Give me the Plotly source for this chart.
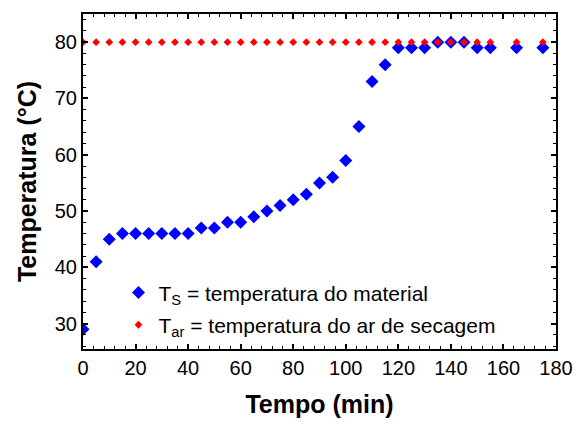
import plotly.graph_objects as go

# Drying experiment: time (min) vs temperature (°C)
tempo = [0, 5, 10, 15, 20, 25, 30, 35, 40, 45, 50, 55, 60, 65, 70, 75, 80, 85,
         90, 95, 100, 105, 110, 115, 120, 125, 130, 135, 140, 145, 150, 155,
         165, 175]
t_material = [29, 41, 45, 46, 46, 46, 46, 46, 46, 47, 47, 48, 48, 49, 50, 51,
              52, 53, 55, 56, 59, 65, 73, 76, 79, 79, 79, 80, 80, 80, 79, 79,
              79, 79]
t_ar = [80] * len(tempo)

FONT = "Arial, Liberation Sans, sans-serif"

fig = go.Figure()
fig.add_trace(go.Scatter(
    x=tempo, y=t_material, mode="markers", legendgroup="s",
    name="T<sub>S</sub> = temperatura do material",
    marker=dict(symbol="diamond", size=10, color="#0000ff"),
))
fig.add_trace(go.Scatter(
    x=tempo, y=t_ar, mode="markers", legendgroup="ar",
    name="T<sub>ar</sub> = temperatura do ar de secagem",
    marker=dict(symbol="diamond", size=6, color="#ff0000"),
))

axis_common = dict(
    showline=True, linecolor="black", linewidth=2, mirror="allticks",
    ticks="inside", ticklen=5, tickwidth=1.5, tickcolor="black",
    showgrid=False, zeroline=False,
    tickfont=dict(family=FONT, size=20, color="black"),
)

fig.update_xaxes(
    range=[0, 180], dtick=20, tick0=0,
    minor=dict(dtick=4, ticks="inside", ticklen=3, tickcolor="black", tickwidth=1),
    title=dict(text="<b>Tempo (min)</b>", font=dict(family=FONT, size=25, color="black"),
               standoff=17),
    **axis_common,
)
fig.update_yaxes(
    range=[25.5, 85], dtick=10, tick0=0,
    minor=dict(dtick=2, ticks="inside", ticklen=3, tickcolor="black", tickwidth=1),
    title=dict(text="<b>Temperatura (°C)</b>", font=dict(family=FONT, size=25, color="black"),
               standoff=11),
    **axis_common,
)

fig.update_layout(
    width=585, height=426,
    margin=dict(l=83, r=21, t=14, b=73),
    paper_bgcolor="white", plot_bgcolor="white",
    showlegend=True,
    legend=dict(x=0.075, y=0.229, xanchor="left", yanchor="top",
                bgcolor="rgba(0,0,0,0)", traceorder="grouped", tracegroupgap=2,
                font=dict(family=FONT, size=21, color="black")),
)

fig.write_html("out.html")
